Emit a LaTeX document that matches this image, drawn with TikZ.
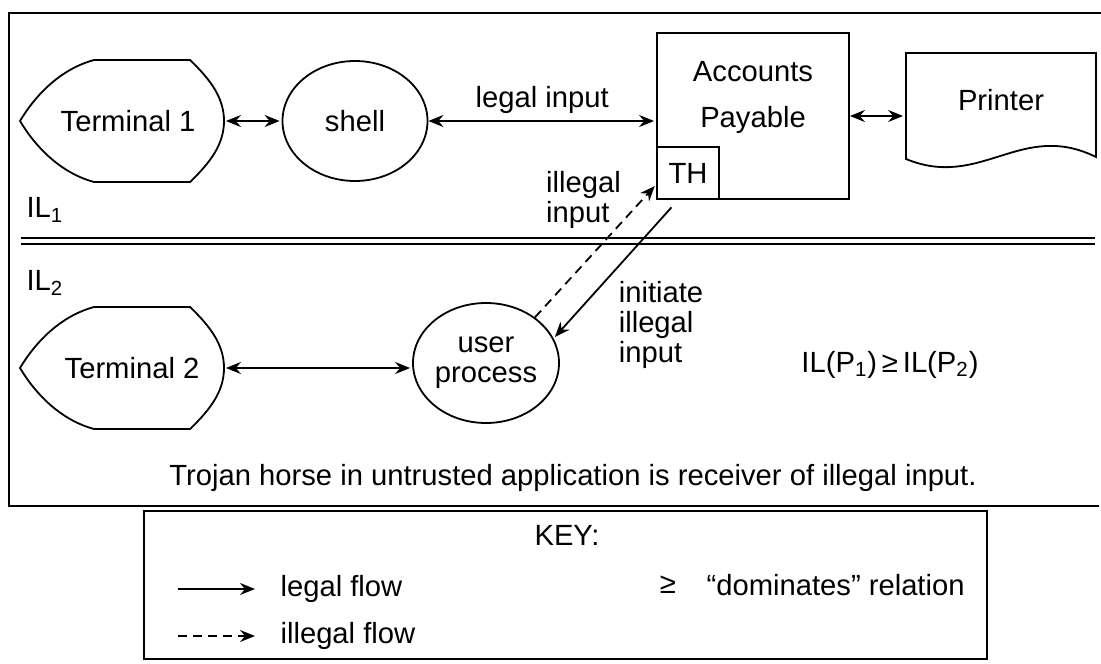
\documentclass[tikz,border=0pt]{standalone}
\usepackage{fontspec}
\setmainfont{Liberation Sans}
\usetikzlibrary{arrows.meta,shapes.geometric}

\begin{document}
\begin{tikzpicture}[x=0.5pt,y=-0.5pt,>={Stealth[length=7.5pt,width=6pt,inset=2.5pt]},shorten >=1pt,auto,node distance=116.5pt,
	line width=0.9pt,font=\fontsize{14.6}{15}\selectfont,
	term node/.style={minimum width=103pt,minimum height=61.5pt,inner sep=0pt},
	proc node/.style={ellipse,draw,minimum width=72.5pt,minimum height=60pt,inner sep=0pt,align=center},
	box node/.style={rectangle,draw,inner sep=0pt,align=center},
	illegal/.style={->,dash pattern=on 4.5pt off 3pt},
	lbl/.style={inner sep=1pt,align=left}]
	\useasboundingbox (0,0) rectangle (1101,663);
	
	% frame and level line
	\draw[line width=1.1pt] (1101,13) -- (9,13) -- (9,506) -- (1101,506);
	\draw (21,238) -- (1097,238);
	\draw (21,244) -- (1097,244);
	
	\node[term node] (t1) at (122,121) {\hspace*{6pt}Terminal 1};
	\node[proc node] (sh) [right of=t1] {shell};
	\node[box node,minimum width=96pt,minimum height=83pt] (ap) at (753,116) {Accounts\\[8pt]Payable\\[4pt]\phantom{Payable}};
	\node[box node,minimum width=31pt,minimum height=26pt,anchor=south west] (th) at (ap.south west) {TH};
	\node[term node,minimum width=95pt,minimum height=47pt] (pr) at (1001,100) {Printer};
	\node[term node] (t2) [below of=t1,node distance=123.5pt] {\hspace*{10pt}Terminal 2};
	\node[proc node,minimum width=73pt] (up) at (486,363) {user\\process};
	
	\foreach \t in {t1,t2}
	\draw[shift={(\t.center)}] (-102,0) .. controls (-84,-30) and (-58,-53) .. (-28,-61) -- (68,-61)
	.. controls (90,-40) and (102,-22) .. (102,0) .. controls (102,22) and (90,40) .. (68,61)
	-- (-28,61) .. controls (-58,53) and (-84,30) .. cycle;
	\draw[shift={(pr.center)}] (-95,59) -- (-95,-47) -- (95,-47) -- (95,57) .. controls (20,20) and (-20,90) .. cycle;
	
	\node[anchor=west] (il1) at (19,210) {IL\textsubscript{1}};
	\node[anchor=west] (il2) at (19,283) {IL\textsubscript{2}};
	\node (dom) at (890,365) {IL(P\textsubscript{1})\,≥\,IL(P\textsubscript{2})};
	\node (troj) at (573,478) {Trojan horse in untrusted application is receiver of illegal input.};
	
	\path[<->]
	(t1) edge (sh)
	(sh) edge node[above] (li) {legal input} (sh -| ap.west)
	(ap.east) edge (ap.east -| pr.west)
	(t2.east) edge (t2.east -| up.west);
	\draw[illegal] (up.43) -- node[pos=0.7,above left,lbl,xshift=2pt,yshift=-3.5pt] (ilin) {illegal\\input} (th.200);
	\draw[->,shorten <=5pt] (th.250) -- node[pos=0.5,anchor=north west,lbl,yshift=-4.5pt] (init) {initiate\\illegal\\input} (up.20);
	
	% key
	\draw (144,511) rectangle (987,659);
	\node (key) at (567,535) {KEY:};
	\coordinate (k1) at (178,589);
	\coordinate (k2) at (178,636);
	\node[anchor=west] (lf) at (273,589) {legal flow};
	\node[anchor=west] (if) at (273,636) {illegal flow};
	\draw[->,shorten >=9pt] (k1) -- (lf);
	\draw[illegal,shorten >=9pt] (k2) -- (if);
	\node (ge) at (668,585) {≥};
	\node[anchor=west] (rel) at (699,585) {“dominates” relation};
\end{tikzpicture}
\end{document}
